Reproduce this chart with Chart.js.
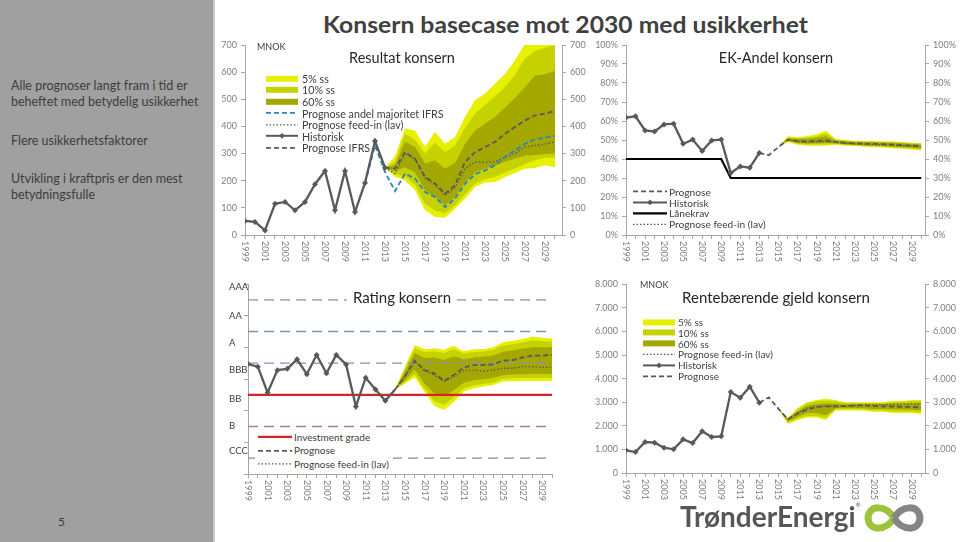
<!DOCTYPE html>
<html>
<head>
<meta charset="utf-8">
<script src="https://cdn.jsdelivr.net/npm/chart.js@4.4.1/dist/chart.umd.min.js"></script>
<style>
  body { margin:0; width:960px; height:542px; position:relative; overflow:hidden; background:#fff; font-family:Lato, "Open Sans", sans-serif; color:#404040; }
  #side { position:absolute; left:0; top:0; width:213px; height:542px; background:#a0a0a0; border-right:2px solid #cacaca; }
  #side p { position:absolute; left:11px; margin:0; font-size:12.5px; line-height:16.1px; color:#3d3d3d; white-space:nowrap; }
  #pnum { position:absolute; left:58px; top:514px; font-size:12px; color:#3d3d3d; }
  #title { position:absolute; left:323px; top:14.3px; font-weight:bold; font-size:22.5px; line-height:22.5px; color:#404040; white-space:nowrap; transform-origin:0 0; }
  canvas { position:absolute; }
  .ctitle { position:absolute; font-size:14.5px; color:#262626; white-space:nowrap; transform:translate(-50%,-50%); line-height:1; }
  .leg { position:absolute; font-size:10px; color:#404040; }
  .leg div { display:flex; align-items:center; white-space:nowrap; }
  .mnok { position:absolute; font-size:9px; color:#404040; line-height:1; }
  #logo { position:absolute; left:680px; top:502px; font-weight:bold; font-size:22px; color:#575757; white-space:nowrap; line-height:1; }
</style>
</head>
<body>
<div id="side">
  <p style="top:77.6px">Alle prognoser langt fram i tid er<br>beheftet med betydelig usikkerhet</p>
  <p style="top:132.5px">Flere usikkerhetsfaktorer</p>
  <p style="top:170.8px">Utvikling i kraftpris er den mest<br>betydningsfulle</p>
</div>
<div id="pnum">5</div>
<div id="title">Konsern basecase mot 2030 med usikkerhet</div>

<canvas id="c1" width="375" height="235" style="left:215px;top:35px"></canvas>
<canvas id="c2" width="370" height="235" style="left:590px;top:35px"></canvas>
<canvas id="c3" width="375" height="235" style="left:215px;top:275px"></canvas>
<canvas id="c4" width="370" height="235" style="left:590px;top:275px"></canvas>

<div class="ctitle" style="left:402px;top:58px">Resultat konsern</div>
<div class="ctitle" style="left:776px;top:58px">EK-Andel konsern</div>
<div class="ctitle" style="left:402px;top:297px;background:#fff;padding:0 6px;font-size:15px">Rating konsern</div>
<div class="ctitle" style="left:776px;top:297px;font-size:15px">Rentebærende gjeld konsern</div>
<div class="mnok" style="left:257px;top:42px">MNOK</div>
<div class="mnok" style="left:640px;top:280px">MNOK</div>

<div id="logo">TrønderEnergi<span style="font-size:6px;vertical-align:top;font-weight:normal">®</span></div>
<svg style="position:absolute;left:863px;top:501px" width="62" height="34" viewBox="0 0 62 34">
  <path d="M31,17 C23,4 6,3 5,17 C6,31 23,30 31,17" fill="none" stroke="#9cc33c" stroke-width="7"/>
  <path d="M31,17 C39,4 56,3 57,17 C56,31 39,30 31,17" fill="none" stroke="#858585" stroke-width="7"/>
</svg>

<script>
// categories
const years = [1999,2000,2001,2002,2003,2004,2005,2006,2007,2008,2009,2010,2011,2012,2013,2014,
               2015,2016,2017,2018,2019,2020,2021,2022,2023,2024,2025,2026,2027,2028,2029,2030];
const tickYears = [1999,2001,2003,2005,2007,2009,2011,2013,2015,2017,2019,2021,2023,2025,2027,2029];

// Resultat konsern (MNOK)
const resHist = [52,48,17,115,122,91,122,187,236,91,236,85,192,346,248];            // 1999-
const resIfrs = [248,245,305,281,214,190,152,183,269,305,324,343,373,398,422,441,447,457]; // 2013-
const resMaj  = [190,330,232,162,226,208,158,140,103,134,189,224,238,257,287,312,336,352,359,364]; // 2011-
const resFeed = [248,226,300,280,210,185,146,175,244,269,268,270,287,300,324,330,335,343]; // 2013-
const res5Hi  = [248,290,392,385,324,380,336,361,435,496,521,557,594,644,705,740,760,775];
const res5Lo  = [248,215,201,165,91,66,64,97,134,177,193,195,214,228,244,247,257,250];
const res10Hi = [248,270,373,350,300,340,306,330,395,447,480,510,545,590,650,678,690,699];
const res10Lo = [248,225,215,185,115,90,80,110,150,190,205,215,230,245,262,275,285,285];
const res60Hi = [248,258,343,325,263,275,244,265,335,385,410,435,470,505,545,588,592,604];
const res60Lo = [248,235,250,230,165,140,110,140,195,230,245,255,270,282,292,295,298,300];

// EK-Andel konsern (%)
const ekHist = [61.8,62.5,55,54.5,58.2,58.6,48,50.2,44.2,49.8,50.2,32.6,36.1,35.4,43.2]; // 1999-
const ekProg = [43.2,42,46.3,50.2,49.5,49.2,49.5,49.8,49,48.5,48.2,48,48,47.8,47.5,47.3,47,46.8]; // 2013-
const ekFeed = [50,49,48.8,49,49.3,48.7,48.3,48,47.8,47.6,47.4,47.2,47,46.6,46.3]; // 2016-
const ekLan  = [40,40,40,40,40,40,40,40,40,40,40,30,30,30,30,30,30,30,30,30,30,30,30,30,30,30,30,30,30,30,30,30]; // 1999-
const ek5Hi  = [46.3,52,51.5,52,53,55,50.5,50,49.6,49.5,49.5,49.3,49.2,49,48.6,48.4]; // 2015-
const ek5Lo  = [46.3,49,47.5,47,47,47,47.5,47,46.8,46.5,46.2,46,45.7,45.4,45,44.5];
const ek10Hi = [46.3,51.3,51,51.3,52,53.5,50.2,49.7,49.3,49.2,49.2,49,48.9,48.7,48.3,48.1];
const ek10Lo = [46.3,49.4,48,47.6,47.6,47.6,47.9,47.4,47.2,46.9,46.6,46.4,46.1,45.8,45.4,45];
const ek60Hi = [46.3,50.8,50.5,50.6,51.2,52,49.8,49.3,49,48.8,48.8,48.6,48.4,48.2,47.9,47.6];
const ek60Lo = [46.3,49.7,48.5,48.2,48.3,48.4,48.3,47.8,47.5,47.3,47.1,46.9,46.6,46.3,46,45.7];

// Rating konsern (scale steps, CCC low .. AAA high)
const ratingLabels = ['AAA','AA','A','BBB','BB','B','CCC'];
const ratingLabelAt = [5.91,5.0,4.14,3.28,2.38,1.52,0.73];
const ratingBoundsHigh = [5.5,4.5,3.5];
const ratingBoundsLow = [1.5,0.5];
const investGrade = 2.5;
const rtHist = [3.47,3.39,2.57,3.28,3.32,3.62,3.15,3.76,3.18,3.76,3.46,2.13,3.04,2.67,2.31,2.67]; // 1999-2014
const rtProg = [2.67,3.09,3.58,3.28,3.18,2.94,3.13,3.36,3.44,3.44,3.46,3.58,3.6,3.68,3.74,3.74,3.76]; // 2014-
const rtFeed = [2.67,3.09,3.55,3.26,3.12,2.92,3.08,3.26,3.28,3.25,3.28,3.34,3.34,3.39,3.39,3.37,3.37];
const rt5Hi  = [2.67,3.39,4.07,3.94,3.97,3.92,4.05,3.88,3.94,3.95,4.0,4.16,4.21,4.26,4.34,4.3,4.28];
const rt5Lo  = [2.67,2.85,3.05,2.6,2.15,2.02,2.28,2.6,2.71,2.76,2.81,2.92,2.93,2.94,2.94,2.94,2.94];
const rt10Hi = [2.67,3.32,3.97,3.85,3.88,3.82,3.95,3.8,3.85,3.87,3.92,4.06,4.1,4.15,4.22,4.2,4.18];
const rt10Lo = [2.67,2.9,3.15,2.7,2.3,2.18,2.42,2.7,2.8,2.84,2.88,3.0,3.02,3.03,3.03,3.03,3.03];
const rt60Hi = [2.67,3.22,3.82,3.66,3.68,3.6,3.72,3.62,3.68,3.7,3.74,3.86,3.9,3.96,4.0,4.0,4.0];
const rt60Lo = [2.67,2.95,3.3,2.85,2.55,2.45,2.65,2.88,2.96,2.99,3.03,3.12,3.14,3.15,3.16,3.16,3.16];

// Rentebærende gjeld konsern (MNOK)
const gjHist = [961,890,1314,1286,1074,1003,1428,1272,1767,1527,1555,3435,3194,3661,2982]; // 1999-
const gjProg = [2982,3208,2728,2276,2516,2686,2799,2827,2827,2841,2855,2869,2841,2830,2820,2810,2800,2784]; // 2013-
const gjFeed = [2276,2550,2750,2820,2840,2840,2860,2870,2880,2890,2900,2910,2920,2930,2940]; // 2016-
const gj5Hi  = [2728,2330,2750,3000,3100,3150,3100,3000,3000,3000,3000,3000,3050,3050,3100,3100]; // 2015-
const gj5Lo  = [2728,2080,2250,2350,2350,2250,2650,2650,2650,2650,2600,2600,2550,2550,2550,2500];
const gj10Hi = [2728,2310,2700,2950,3050,3080,3050,2970,2970,2970,2970,2970,3010,3010,3050,3050];
const gj10Lo = [2728,2120,2300,2420,2420,2330,2700,2700,2700,2690,2650,2650,2610,2610,2610,2570];
const gj60Hi = [2728,2290,2600,2850,2920,2950,2950,2900,2920,2920,2920,2920,2940,2940,2960,2960];
const gj60Lo = [2728,2200,2380,2550,2550,2450,2750,2760,2760,2750,2720,2720,2700,2690,2680,2660];

const C5 = '#e6f000', C10 = '#c6d200', C60 = '#a4a700';
const GREY = '#595959', BLUE = '#2b84c4', AX = '#a6a6a6', TK = '#7f7f7f';

const pts = (start, arr) => arr.map((v, i) => ({x: start + i, y: v}));

function band(start, hi, lo, color, order) {
  return [
    {data: pts(start, hi), fill: '+1', backgroundColor: color, borderColor: 'transparent', borderWidth: 0, pointRadius: 0, order},
    {data: pts(start, lo), fill: false, borderColor: 'transparent', borderWidth: 0, pointRadius: 0, order}
  ];
}
function line(start, arr, color, width, dash, order, extra) {
  return Object.assign({data: pts(start, arr), borderColor: color, borderWidth: width, borderDash: dash || [],
    pointRadius: 0, fill: false, order}, extra || {});
}
function flat(v, color, width, dash, order) {
  return {data: [{x: 1999, y: v}, {x: 2030, y: v}], borderColor: color, borderWidth: width, borderDash: dash || [],
    pointRadius: 0, fill: false, order};
}
// marked: how many leading points carry a diamond marker
const hist = (start, arr, order, marked) => line(start, arr, GREY, 2.3, null, order, {
  pointRadius: c => c.dataIndex < (marked || arr.length) ? 3 : 0,
  pointStyle: 'rectRot', pointBackgroundColor: GREY, pointBorderColor: GREY, pointBorderWidth: 0});

function yAxis(pos, min, max, step, width, fmt, show) {
  return {type: 'linear', position: pos, min, max,
    ticks: {stepSize: step, display: show !== false, color: TK, font: {family: 'Lato', size: 9}, padding: 4, callback: fmt},
    grid: {drawOnChartArea: false, drawTicks: true, tickLength: 4, color: AX},
    border: {color: AX, width: 1},
    afterFit(s) { s.width = width; }};
}
function xAxis(max, height) {
  return {type: 'linear', min: 1999, max,
    ticks: {display: false},
    grid: {drawOnChartArea: false, drawTicks: true, tickLength: 4, color: AX},
    border: {color: AX, width: 1},
    afterBuildTicks(s) { s.ticks = years.map(v => ({value: v})); },
    afterFit(s) { s.height = height; }};
}

// year labels read top-to-bottom (rotated clockwise)
const yearLabels = {id: 'yearLabels', afterDraw(chart) {
  const s = chart.scales.x, ctx = chart.ctx;
  ctx.save();
  ctx.fillStyle = TK; ctx.font = '9px Lato'; ctx.textAlign = 'left'; ctx.textBaseline = 'middle';
  tickYears.forEach(y => {
    ctx.save();
    ctx.translate(s.getPixelForValue(y), s.top + 6);
    ctx.rotate(Math.PI / 2);
    ctx.fillText(String(y), 0, 0);
    ctx.restore();
  });
  ctx.restore();
}};

const ratingText = {id: 'ratingText', afterDraw(chart) {
  const s = chart.scales.y, ctx = chart.ctx;
  ctx.save();
  ctx.fillStyle = '#404040'; ctx.font = '9.5px Lato'; ctx.textAlign = 'left'; ctx.textBaseline = 'middle';
  ratingLabels.forEach((t, i) => ctx.fillText(t, 14, s.getPixelForValue(ratingLabelAt[i])));
  ctx.restore();
}};

function make(id, datasets, scales, padding, plugins) {
  return new Chart(document.getElementById(id), {
    type: 'line',
    data: {datasets},
    options: {
      responsive: false, animation: false, devicePixelRatio: 1,
      layout: {padding},
      elements: {line: {tension: 0}},
      plugins: {legend: {display: false}, tooltip: {enabled: false}},
      scales
    },
    plugins: [yearLabels].concat(plugins || [])
  });
}

const num = v => v;
const thousand = v => v === 0 ? '0' : (v / 1000) + '.000';
const pct = v => v + '%';

make('c1', [
  ...band(2013, res5Hi, res5Lo, C5, 30),
  ...band(2013, res10Hi, res10Lo, C10, 29),
  ...band(2013, res60Hi, res60Lo, C60, 28),
  line(2013, resFeed, GREY, 1.3, [1.5, 2], 4),
  line(2011, resMaj, BLUE, 1.8, [5, 3], 3),
  line(2013, resIfrs, GREY, 1.8, [5, 3], 2),
  hist(1999, resHist, 1)
], {
  x: xAxis(2030.7, 35),
  y: yAxis('left', 0, 700, 100, 30, num),
  y2: yAxis('right', 0, 700, 100, 28, num)
}, {top: 10, left: 0, right: 0, bottom: 0});

make('c2', [
  ...band(2015, ek5Hi, ek5Lo, C5, 30),
  ...band(2015, ek10Hi, ek10Lo, C10, 29),
  ...band(2015, ek60Hi, ek60Lo, C60, 28),
  line(1999, ekLan, '#000', 2.2, null, 4),
  line(2016, ekFeed, GREY, 1.3, [1.5, 2], 3),
  line(2013, ekProg, GREY, 1.8, [5, 3], 2),
  hist(1999, ekHist, 1)
], {
  x: xAxis(2030.4, 35),
  y: yAxis('left', 0, 100, 10, 36, pct),
  y2: yAxis('right', 0, 100, 10, 35, pct)
}, {top: 10, left: 0, right: 0, bottom: 0});

make('c3', [
  ...band(2014, rt5Hi, rt5Lo, C5, 30),
  ...band(2014, rt10Hi, rt10Lo, C10, 29),
  ...band(2014, rt60Hi, rt60Lo, C60, 28),
  ...ratingBoundsHigh.map(v => flat(v, '#7d97b5', 1.3, [10, 6], 6)),
  ...ratingBoundsLow.map(v => flat(v, '#b07f7f', 1.3, [10, 6], 6)),
  flat(investGrade, '#d3242a', 2.2, null, 5),
  line(2014, rtFeed, GREY, 1.3, [1.5, 2], 3),
  line(2014, rtProg, GREY, 1.8, [5, 3], 2),
  hist(1999, rtHist, 1, 15)
], {
  x: xAxis(2030, 36),
  y: yAxis('left', 0, 6, 1, 33, num, false)
}, {top: 9, left: 0, right: 38, bottom: 0}, [ratingText]);

make('c4', [
  ...band(2015, gj5Hi, gj5Lo, C5, 30),
  ...band(2015, gj10Hi, gj10Lo, C10, 29),
  ...band(2015, gj60Hi, gj60Lo, C60, 28),
  line(2016, gjFeed, GREY, 1.3, [1.5, 2], 3),
  line(2013, gjProg, GREY, 1.8, [5, 3], 2),
  hist(1999, gjHist, 1)
], {
  x: xAxis(2030.4, 37),
  y: yAxis('left', 0, 8000, 1000, 36, thousand),
  y2: yAxis('right', 0, 8000, 1000, 35, thousand)
}, {top: 9, left: 0, right: 0, bottom: 0});

// legends (html)
function legend(left, top, rowH, swW, gap, fs, items, bg) {
  const box = document.createElement('div');
  box.className = 'leg';
  box.style.left = left + 'px';
  box.style.top = top + 'px';
  box.style.fontSize = fs + 'px';
  if (bg) { box.style.background = '#fff'; box.style.padding = '2px 4px 2px 3px'; box.style.marginLeft = '-3px'; box.style.marginTop = '-2px'; }
  items.forEach(it => {
    const m = rowH / 2;
    let svg = '<svg width="' + swW + '" height="' + rowH + '" style="margin-right:' + gap + 'px;flex:none">';
    if (it.band) {
      svg += '<rect x="0" y="' + (m - 3) + '" width="' + swW + '" height="6" fill="' + it.color + '"/>';
    } else {
      svg += '<line x1="0" y1="' + m + '" x2="' + swW + '" y2="' + m + '" stroke="' + it.color + '" stroke-width="' + it.w + '"' +
             (it.dash ? ' stroke-dasharray="' + it.dash + '"' : '') + '/>';
      if (it.marker) svg += '<rect x="' + (swW / 2 - 2) + '" y="' + (m - 2) + '" width="4" height="4" fill="' + it.color +
                            '" transform="rotate(45 ' + (swW / 2) + ' ' + m + ')"/>';
    }
    svg += '</svg>';
    const row = document.createElement('div');
    row.style.height = rowH + 'px';
    row.innerHTML = svg + '<span>' + it.label + '</span>';
    box.appendChild(row);
  });
  document.body.appendChild(box);
}
const L5 = {label: '5% ss', band: true, color: C5};
const L10 = {label: '10% ss', band: true, color: C10};
const L60 = {label: '60% ss', band: true, color: C60};
const LFeed = {label: 'Prognose feed-in (lav)', color: GREY, w: 1.3, dash: '1.5 2'};
const LHist = {label: 'Historisk', color: GREY, w: 2, marker: true};

legend(266, 72.5, 11.6, 32, 4, 10.7, [L5, L10, L60,
  {label: 'Prognose andel majoritet IFRS', color: BLUE, w: 1.8, dash: '5 3'},
  LFeed, LHist, {label: 'Prognose IFRS', color: GREY, w: 1.8, dash: '5 3'}]);
legend(633, 186.2, 10.9, 34, 2, 10.2, [{label: 'Prognose', color: GREY, w: 1.8, dash: '5 3'}, LHist,
  {label: 'Lånekrav', color: '#000', w: 2.2}, LFeed]);
legend(258, 430, 13.6, 34, 2, 10, [{label: 'Investment grade', color: '#d3242a', w: 2.2},
  {label: 'Prognose', color: GREY, w: 1.8, dash: '5 3'}, LFeed], true);
legend(643, 316.6, 10.8, 32, 3, 10, [L5, L10, L60, LFeed, LHist, {label: 'Prognose', color: GREY, w: 1.8, dash: '5 3'}]);

// fit title (horizontal stretch) / logo widths
const title = document.getElementById('title');
title.style.transform = 'scaleX(' + (485 / title.getBoundingClientRect().width) + ')';
const logo = document.getElementById('logo');
logo.style.fontSize = (22 * 182 / logo.getBoundingClientRect().width) + 'px';
</script>
</body>
</html>
